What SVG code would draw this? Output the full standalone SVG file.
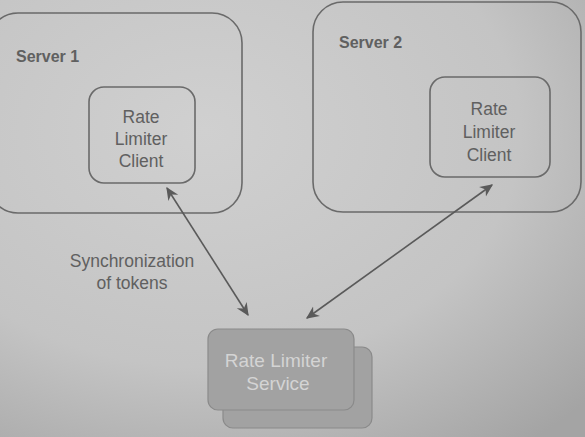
<svg xmlns="http://www.w3.org/2000/svg" width="585" height="437" viewBox="0 0 585 437">
  <defs>
    <radialGradient id="bg" cx="0.35" cy="0.3" r="0.9">
      <stop offset="0" stop-color="#d0d0d0"/>
      <stop offset="0.6" stop-color="#c4c4c4"/>
      <stop offset="1" stop-color="#a4a4a4"/>
    </radialGradient>
    <marker id="ah" viewBox="0 0 10 10" refX="9" refY="5" markerWidth="13" markerHeight="13" markerUnits="userSpaceOnUse" orient="auto-start-reverse">
      <path d="M0,0.5 L10,5 L0,9.5 L3,5 Z" fill="#5a5a5a"/>
    </marker>
    <style>
      .box { fill: none; stroke: #6a6a6a; stroke-width: 1.6; }
      .t { font-family: "Liberation Sans", Arial, sans-serif; font-size: 17.5px; fill: #606060; }
      .title { font-weight: bold; font-size: 16px; }
      .svc { fill: #a2a2a2; stroke: #8a8a8a; stroke-width: 1.2; }
      .svct { font-family: "Liberation Sans", Arial, sans-serif; font-size: 19px; fill: #d4d4d4; }
      .conn { stroke: #5a5a5a; stroke-width: 1.6; fill: none; marker-start: url(#ah); marker-end: url(#ah); }
    </style>
  </defs>
  <rect x="0" y="0" width="585" height="437" fill="url(#bg)"/>

  <g id="server1">
    <rect class="box" x="-12" y="13" width="254" height="200" rx="30"/>
    <text class="t title" x="16" y="62">Server 1</text>
  </g>
  <g id="client1">
    <rect class="box" x="89" y="87" width="106" height="96" rx="15"/>
    <text class="t" text-anchor="middle" x="141" y="123">Rate</text>
    <text class="t" text-anchor="middle" x="141" y="145">Limiter</text>
    <text class="t" text-anchor="middle" x="141" y="167">Client</text>
  </g>
  <g id="server2">
    <rect class="box" x="313" y="2" width="268" height="210" rx="30"/>
    <text class="t title" x="339" y="48">Server 2</text>
  </g>
  <g id="client2">
    <rect class="box" x="430" y="77" width="120" height="100" rx="15"/>
    <text class="t" text-anchor="middle" x="489" y="115">Rate</text>
    <text class="t" text-anchor="middle" x="489" y="138">Limiter</text>
    <text class="t" text-anchor="middle" x="489" y="161">Client</text>
  </g>
  <g id="service">
    <rect class="svc" x="223" y="347" width="149" height="81" rx="10"/>
    <rect class="svc" x="208" y="329" width="146" height="81" rx="10"/>
    <text class="svct" text-anchor="middle" x="276" y="367">Rate Limiter</text>
    <text class="svct" text-anchor="middle" x="278" y="390">Service</text>
  </g>
  <g id="connectors">
    <line class="conn" x1="167" y1="188" x2="248" y2="315"/>
    <line class="conn" x1="492" y1="185" x2="307" y2="318"/>
    <text class="t" text-anchor="middle" x="132" y="267">Synchronization</text>
    <text class="t" text-anchor="middle" x="132" y="289">of tokens</text>
  </g>
</svg>
